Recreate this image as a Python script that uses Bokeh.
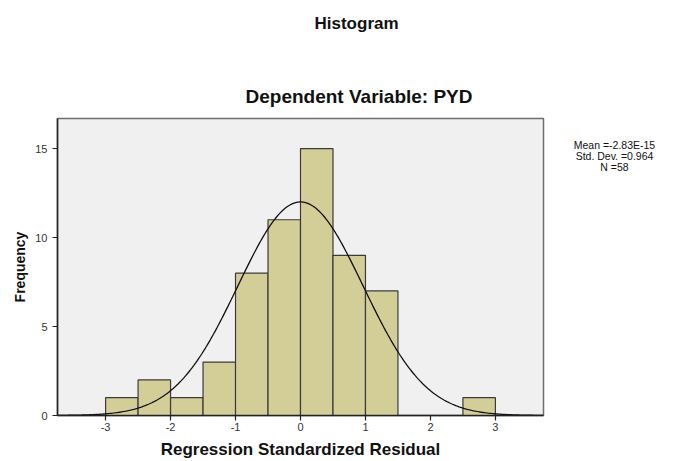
import numpy as np
from bokeh.plotting import figure
from bokeh.layouts import row
from bokeh.models import Range1d, FixedTicker, ColumnDataSource, Title, Div
from bokeh.embed import file_html
from bokeh.resources import INLINE

# Histogram data (bin width 0.5)
bin_left = [-3.0, -2.5, -2.0, -1.5, -1.0, -0.5, 0.0, 0.5, 1.0, 2.5]
bin_right = [-2.5, -2.0, -1.5, -1.0, -0.5, 0.0, 0.5, 1.0, 1.5, 3.0]
counts = [1, 2, 1, 3, 8, 11, 15, 9, 7, 1]

mean = -2.83e-15
std = 0.964
n = 58
bin_width = 0.5

x_ticks = [-3, -2, -1, 0, 1, 2, 3]
y_ticks = [0, 5, 10, 15]
stats = ["Mean =-2.83E-15", "Std. Dev. =0.964", "N =58"]

FONT = "Liberation Sans"

p = figure(width=548, height=461, output_backend="svg", toolbar_location=None,
           x_range=Range1d(-3.74, 3.74), y_range=Range1d(0, 16.69),
           min_border_left=57, min_border_right=5, min_border_top=118, min_border_bottom=46)

p.background_fill_color = "#f0f0f0"
p.border_fill_color = "white"
p.outline_line_color = "#6e6e6e"
p.outline_line_width = 1.5
p.xgrid.visible = False
p.ygrid.visible = False

src = ColumnDataSource(dict(left=bin_left, right=bin_right, top=counts, bottom=[0] * len(counts)))
p.quad(left="left", right="right", top="top", bottom="bottom", source=src,
       fill_color="#d3ce98", line_color="#3a3a3a", line_width=1.2)

xs = np.linspace(-3.74, 3.74, 300)
ys = n * bin_width / (std * np.sqrt(2 * np.pi)) * np.exp(-0.5 * ((xs - mean) / std) ** 2)
p.line(xs, ys, line_color="#111111", line_width=1.3)

for ax, ticks in ((p.xaxis, x_ticks), (p.yaxis, y_ticks)):
    ax.ticker = FixedTicker(ticks=ticks)
    ax.major_label_overrides = {t: str(t) for t in ticks}
    ax.minor_tick_line_color = None
    ax.major_tick_in = 0
    ax.major_tick_out = 5
    ax.major_tick_line_color = "#222222"
    ax.major_tick_line_width = 1.2
    ax.axis_line_color = "#222222"
    ax.axis_line_width = 1.5
    ax.major_label_text_font = FONT
    ax.major_label_text_font_size = "11px"
    ax.major_label_text_color = "#333333"
    ax.axis_label_text_font = FONT
    ax.axis_label_text_font_style = "bold"
    ax.axis_label_text_color = "#111111"

p.xaxis.axis_label = "Regression Standardized Residual"
p.xaxis.axis_label_text_font_size = "17px"
p.xaxis.major_label_standoff = 2
p.xaxis.axis_label_standoff = 6
p.yaxis.axis_label = "Frequency"
p.yaxis.axis_label_text_font_size = "14px"
p.yaxis.major_label_standoff = 5
p.yaxis.axis_label_standoff = 4

# Outer title: "Histogram"
p.title.text = "Histogram\n"
p.title.text_font = FONT
p.title.text_font_style = "bold"
p.title.text_font_size = "17px"
p.title.text_line_height = 1.6
p.title.align = "left"
p.title.offset = 257
p.title.vertical_align = "top"
p.title.text_color = "#111111"
p.title.standoff = 14

# Inner title: subtitle next to the frame
p.add_layout(Title(text="Dependent Variable: PYD", text_font=FONT, text_font_style="bold",
                   text_font_size="19px", align="left", offset=188,
                   text_color="#111111", standoff=24), "above")

# Statistics text on the right
stats_html = "<br>".join(stats)
side = Div(
    text=('<div style="padding-top:140px;width:133px;text-align:center;'
          "font-family:'Liberation Sans',Arial,sans-serif;font-size:10.5px;"
          'line-height:11px;color:#111111;">' + stats_html + "</div>"),
    width=133, height=461, margin=0)

layout = row(p, side)
open("out.html", "w").write(file_html(layout, INLINE))
